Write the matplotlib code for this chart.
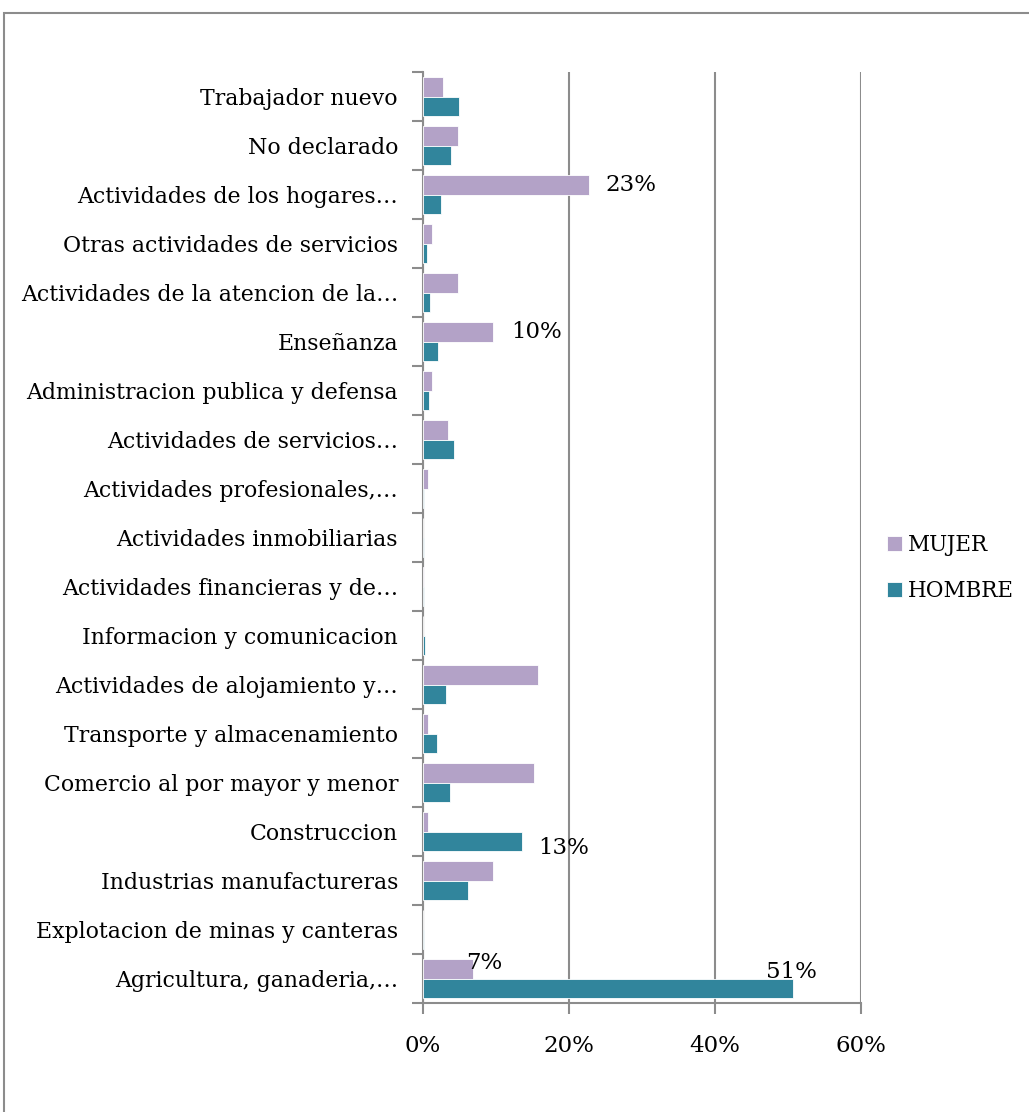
import matplotlib.pyplot as plt
from matplotlib.patches import Rectangle
from matplotlib.ticker import FuncFormatter

plt.rcParams['font.family'] = ['DejaVu Serif']

# Data (bottom to top)
categories = [
    'Agricultura, ganaderia,…',
    'Explotacion de minas y canteras',
    'Industrias manufactureras',
    'Construccion',
    'Comercio al por mayor y menor',
    'Transporte y almacenamiento',
    'Actividades de alojamiento y…',
    'Informacion y comunicacion',
    'Actividades financieras y de…',
    'Actividades inmobiliarias',
    'Actividades profesionales,…',
    'Actividades de servicios…',
    'Administracion publica y defensa',
    'Enseñanza',
    'Actividades de la atencion de la…',
    'Otras actividades de servicios',
    'Actividades de los hogares…',
    'No declarado',
    'Trabajador nuevo',
]
mujer = [6.8, 0.0, 9.6, 0.7, 15.2, 0.7, 15.8, 0.0, 0.1, 0.0, 0.7, 3.4, 1.3, 9.6, 4.8, 1.3, 22.7, 4.8, 2.7]
hombre = [50.7, 0.2, 6.2, 13.5, 3.7, 1.9, 3.2, 0.3, 0.2, 0.2, 0.2, 4.3, 0.8, 2.0, 1.0, 0.6, 2.5, 3.9, 4.9]

# labels shown: (category index, series, text, dx, dy)
labels = [(16, 'm', '23%', 5.8, 0.0), (13, 'm', '10%', 5.9, 0.0), (3, 'h', '13%', 5.8, -0.15),
          (0, 'm', '7%', 1.6, 0.12), (0, 'h', '51%', -0.2, 0.33)]

c_mujer = '#B3A2C7'
c_hombre = '#31859C'
grey = '#8C8C8C'

fig = plt.figure(figsize=(10.29, 11.12), dpi=100)
ax = fig.add_axes([423 / 1029, 1 - 1003 / 1112, 438 / 1029, 931 / 1112])

h = 0.39
y = list(range(len(categories)))
ax.barh([v + h / 2 for v in y], mujer, height=h, color=c_mujer, edgecolor='white', linewidth=0.6, label='MUJER', zorder=3)
ax.barh([v - h / 2 for v in y], hombre, height=h, color=c_hombre, edgecolor='white', linewidth=0.6, label='HOMBRE', zorder=3)

for i, s, t, dx, dy in labels:
    val = mujer[i] if s == 'm' else hombre[i]
    yc = i + h / 2 if s == 'm' else i - h / 2
    ax.text(val + dx, yc + dy, t, ha='center', va='center', fontsize=16.5)

ax.set_xlim(0, 60)
ax.set_ylim(-0.5, len(categories) - 0.5)
ax.set_xticks([0, 20, 40, 60])
ax.xaxis.set_major_formatter(FuncFormatter(lambda v, p: f'{v:.0f}%'))
ax.set_yticks(y)
ax.set_yticklabels(categories)
ax.set_yticks([v - 0.5 for v in range(len(categories) + 1)], minor=True)
ax.tick_params(axis='y', which='major', length=0, pad=18, labelsize=15.8)
ax.tick_params(axis='y', which='minor', length=8, width=1.5, color=grey)
ax.tick_params(axis='x', length=8, width=1.5, color=grey, pad=15, labelsize=16.5)
ax.grid(axis='x', color=grey, linewidth=1.5, zorder=0)
for side in ['top', 'right']:
    ax.spines[side].set_visible(False)
for side in ['left', 'bottom']:
    ax.spines[side].set_color(grey)
    ax.spines[side].set_linewidth(1.5)

fig.legend(loc='center left', bbox_to_anchor=(868 / 1029, 1 - 568 / 1112), frameon=False,
           handlelength=0.7, handleheight=0.7, handletextpad=0.25, labelspacing=1.1, fontsize=15.5)

fig.patches.append(Rectangle((4 / 1029, -0.1), 1.2, 1.088, transform=fig.transFigure,
                             fill=False, edgecolor=grey, linewidth=1.5))

fig.savefig('out.png', dpi=100)
